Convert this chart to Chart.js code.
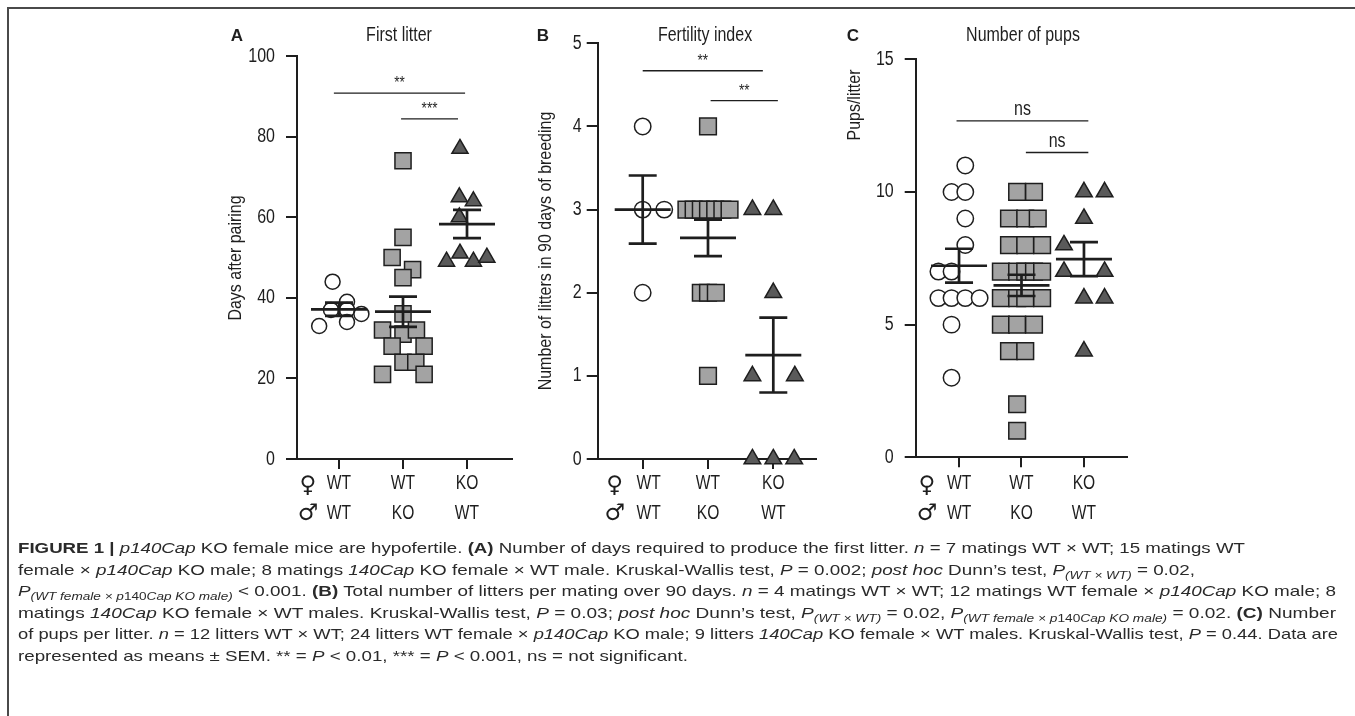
<!DOCTYPE html>
<html><head><meta charset="utf-8">
<script src="https://cdn.jsdelivr.net/npm/chart.js@4.4.1/dist/chart.umd.min.js"></script>
<style>
html,body{margin:0;padding:0;background:#fff;}
body{width:1355px;height:716px;overflow:hidden;position:relative;font-family:'Liberation Sans',Arial,sans-serif;}
.frame-top{position:absolute;left:7px;top:7px;width:1348px;height:2px;background:#4a4a4a;}
.frame-left{position:absolute;left:7px;top:7px;width:2px;height:709px;background:#4a4a4a;}
canvas{position:absolute;top:0;}
#cap{position:absolute;left:18px;top:537px;font-size:15px;line-height:21.5px;color:#2a2a2a;white-space:nowrap;}
#cap div{height:21.5px;}
#cap span{display:inline-block;transform-origin:0 50%;}
#cap sub{font-size:0.72em;vertical-align:-0.35em;line-height:0;}
</style></head>
<body>
<div class="frame-top"></div><div class="frame-left"></div>
<canvas id="cA" width="330" height="540" style="left:200px"></canvas>
<canvas id="cB" width="310" height="540" style="left:520px"></canvas>
<canvas id="cC" width="300" height="540" style="left:840px"></canvas>
<div id="cap"></div>
<script>
// ---------- shared labels ----------
const femaleGenotype = ['WT', 'WT', 'KO'];
const maleGenotype = ['WT', 'KO', 'WT'];
const panelLetters = ['A', 'B', 'C'];
const panelTitles = ['First litter', 'Fertility index', 'Number of pups'];
const yTitles = ['Days after pairing', 'Number of litters in 90 days of breeding', 'Pups/litter'];

// ---------- Panel A: days after pairing ----------
const daysWTxWT = [44, 39, 37, 37, 36, 34, 33];
const daysWTxWTjit = [-0.1, 0.125, -0.125, 0.125, 0.35, 0.125, -0.31];
const daysWTxKO = [74, 55, 50, 47, 45, 36, 32, 31, 32, 28, 28, 24, 24, 21, 21];
const daysWTxKOjit = [0, 0, -0.17, 0.15, 0, 0, -0.32, 0, 0.21, -0.17, 0.33, 0, 0.2, -0.32, 0.33];
const daysKOxWT = [77, 65, 64, 60, 49, 51, 49, 50];
const daysKOxWTjit = [-0.11, -0.12, 0.1, -0.12, -0.32, -0.11, 0.1, 0.31];
const daysMean = [37.15, 36.55, 58.3];
const daysSEM = [1.65, 3.75, 3.5];
const daysTicks = [0, 20, 40, 60, 80, 100];
const daysSig = [[0.92, 2.97, 90.8, '**'], [1.97, 2.86, 84.4, '***']];

// ---------- Panel B: litters in 90 days ----------
const littersWTxWT = [4, 3, 3, 2];
const littersWTxWTjit = [0, 0, 0.33, 0];
const littersWTxKO = [4, 3, 3, 3, 3, 3, 3, 3, 2, 2, 2, 1];
const littersWTxKOjit = [0, -0.33, -0.22, -0.11, 0, 0.11, 0.22, 0.33, -0.11, 0, 0.12, 0];
const littersKOxWT = [3, 3, 2, 1, 1, 0, 0, 0];
const littersKOxWTjit = [-0.32, 0, 0, -0.32, 0.33, -0.32, 0, 0.32];
const littersMean = [3.0, 2.66, 1.25];
const littersSEM = [0.41, 0.22, 0.45];
const littersTicks = [0, 1, 2, 3, 4, 5];
const littersSig = [[1.0, 2.84, 4.67, '**'], [2.04, 3.07, 4.31, '**']];

// ---------- Panel C: pups per litter ----------
const pupsWTxWT = [11, 10, 10, 9, 8, 7, 7, 6, 6, 6, 6, 5, 3];
const pupsWTxWTjit = [0.1, -0.12, 0.1, 0.1, 0.1, -0.33, -0.12, -0.33, -0.12, 0.1, 0.33, -0.12, -0.12];
const pupsWTxKO = [10, 10, 9, 9, 9, 8, 8, 8, 7, 7, 7, 7, 7, 6, 6, 6, 6, 5, 5, 5, 4, 4, 2, 1];
const pupsWTxKOjit = [-0.07, 0.2, -0.2, 0.06, 0.26, -0.2, 0.06, 0.33, -0.33, -0.07, 0.06, 0.2, 0.33, -0.33, -0.07, 0.06, 0.33, -0.33, -0.07, 0.2, -0.2, 0.06, -0.07, -0.07];
const pupsKOxWT = [10, 10, 9, 8, 7, 7, 6, 6, 4];
const pupsKOxWTjit = [0, 0.33, 0, -0.32, -0.32, 0.33, 0, 0.33, 0];
const pupsMean = [7.22, 6.48, 7.47];
const pupsSEM = [0.64, 0.40, 0.64];
const pupsTicks = [0, 5, 10, 15];
const pupsSig = [[0.96, 3.07, 12.68, 'ns'], [2.07, 3.07, 11.49, 'ns']];

// ---------- drawing ----------
const SANS = "'Liberation Sans',Arial,sans-serif";
const INK = '#1e1e1e';
const LIGHT = '#a3a3a3', DARK = '#5a5a5a';

function pts(vals, jit, cat) { return vals.map((v, i) => ({ x: cat + jit[i], y: v })); }

// condensed text (the figure uses a condensed sans face)
function ntext(ctx, text, x, y, size, align, sx, rot) {
  ctx.save();
  ctx.translate(x, y);
  if (rot) ctx.rotate(rot);
  ctx.scale(sx, 1);
  ctx.font = size + 'px ' + SANS;
  ctx.textAlign = align;
  ctx.textBaseline = 'middle';
  ctx.fillText(text, 0, 0);
  ctx.restore();
}

const decoPlugin = {
  id: 'deco',
  afterDatasetsDraw(chart, args, o) {
    const ctx = chart.ctx, xs = chart.scales.x, ys = chart.scales.y;
    ctx.save();
    ctx.strokeStyle = INK; ctx.lineWidth = 2.7; ctx.lineCap = 'butt';
    o.mean.forEach((m, i) => {
      const cx = xs.getPixelForValue(i + 1);
      const ym = ys.getPixelForValue(m), yh = ys.getPixelForValue(m + o.sem[i]), yl = ys.getPixelForValue(m - o.sem[i]);
      ctx.beginPath();
      ctx.moveTo(cx - 28, ym); ctx.lineTo(cx + 28, ym);
      ctx.moveTo(cx, yh); ctx.lineTo(cx, yl);
      ctx.moveTo(cx - 14, yh); ctx.lineTo(cx + 14, yh);
      ctx.moveTo(cx - 14, yl); ctx.lineTo(cx + 14, yl);
      ctx.stroke();
    });
    ctx.lineWidth = 1.4;
    ctx.fillStyle = INK;
    o.sig.forEach(s => {
      const x1 = xs.getPixelForValue(s[0]), x2 = xs.getPixelForValue(s[1]), y = ys.getPixelForValue(s[2]);
      ctx.beginPath(); ctx.moveTo(x1, y); ctx.lineTo(x2, y); ctx.stroke();
      if (s[3] === 'ns') ntext(ctx, s[3], (x1 + x2) / 2, y - 11, 20, 'center', 0.8);
      else ntext(ctx, s[3], (x1 + x2) / 2, y - 9, 16, 'center', 0.85);
    });
    ctx.restore();
  },
  afterDraw(chart, args, o) {
    const ctx = chart.ctx, xs = chart.scales.x, ys = chart.scales.y, ca = chart.chartArea;
    ctx.save();
    ctx.fillStyle = INK;
    // y tick labels from the scale's ticks
    ys.ticks.forEach(t => {
      ntext(ctx, String(t.value), ca.left - 11 - o.tickPad, ys.getPixelForValue(t.value), 20, 'right', 0.8);
    });
    // category labels
    femaleGenotype.forEach((t, i) => ntext(ctx, t, xs.getPixelForValue(i + 1) + (i === 0 ? o.firstShift : 0), o.row1, 20, 'center', 0.78));
    maleGenotype.forEach((t, i) => ntext(ctx, t, xs.getPixelForValue(i + 1) + (i === 0 ? o.firstShift : 0), o.row2, 20, 'center', 0.78));
    // sex symbols
    ctx.font = '23px "DejaVu Sans"';
    ctx.textAlign = 'center'; ctx.textBaseline = 'middle';
    const sx = xs.getPixelForValue(1) - o.symOff;
    ctx.fillText('\u2640', sx, o.row1 + 3);
    ctx.fillText('\u2642', sx, o.row2 + 1);
    // title
    ntext(ctx, o.title, o.titleX, 35, 20, 'center', 0.8);
    // letter
    ctx.font = 'bold 17px ' + SANS;
    ctx.fillText(o.letter, o.letterX, 36);
    // y title
    ntext(ctx, o.yTitle, o.yTitleX, o.yTitleY, 19, 'center', 0.84, -Math.PI / 2);
    ctx.restore();
  }
};

function makePanel(id, sets, yTicks, ySpec, xSpec, deco) {
  const [minV, maxV] = [yTicks[0], yTicks[yTicks.length - 1]];
  const datasets = sets.map(s => ({
    data: s.data,
    pointStyle: s.style,
    pointRadius: s.r,
    pointBackgroundColor: s.fill,
    pointBorderColor: INK,
    pointBorderWidth: 1.5,
    showLine: false,
    clip: false
  }));
  deco.tickPad = ySpec.pad;
  return new Chart(document.getElementById(id), {
    type: 'scatter',
    data: { datasets },
    options: {
      responsive: false, animation: false, events: [],
      layout: { padding: { top: ySpec.top, right: xSpec.right, left: 0, bottom: 0 } },
      plugins: { legend: { display: false }, tooltip: { enabled: false }, deco },
      scales: {
        x: {
          type: 'linear', min: xSpec.min, max: xSpec.max,
          afterBuildTicks: s => { s.ticks = femaleGenotype.map((_, i) => ({ value: i + 1 })); },
          afterFit: s => { s.height = xSpec.height; },
          ticks: { display: false },
          grid: { drawOnChartArea: false, drawTicks: true, tickLength: 10, color: INK, lineWidth: 2 },
          border: { display: true, color: INK, width: 2 }
        },
        y: {
          type: 'linear', min: minV, max: maxV,
          afterBuildTicks: s => { s.ticks = yTicks.map(v => ({ value: v })); },
          afterFit: s => { s.width = ySpec.width; },
          ticks: { display: false },
          grid: { drawOnChartArea: false, drawTicks: true, tickLength: 11, color: INK, lineWidth: 2 },
          border: { display: true, color: INK, width: 2 }
        }
      }
    },
    plugins: [decoPlugin]
  });
}

// Panel A
makePanel('cA', [
  { data: pts(daysWTxWT, daysWTxWTjit, 1), style: 'circle', r: 7.5, fill: '#ffffff' },
  { data: pts(daysWTxKO, daysWTxKOjit, 2), style: 'rect', r: 11.4, fill: LIGHT },
  { data: pts(daysKOxWT, daysKOxWTjit, 3), style: 'triangle', r: 9.3, fill: DARK }
], daysTicks, { top: 56, width: 97, pad: 11 },
   { min: 1 - 42 / 64, max: 1 + 173 / 64, height: 81, right: 18 },
   { mean: daysMean, sem: daysSEM, sig: daysSig, row1: 483, row2: 513, symOff: 31, firstShift: 0,
     title: panelTitles[0], titleX: 199, letter: panelLetters[0], letterX: 37,
     yTitle: yTitles[0], yTitleX: 36, yTitleY: 258 });

// Panel B
makePanel('cB', [
  { data: pts(littersWTxWT, littersWTxWTjit, 1), style: 'circle', r: 8.2, fill: '#ffffff' },
  { data: pts(littersWTxKO, littersWTxKOjit, 2), style: 'rect', r: 11.8, fill: LIGHT },
  { data: pts(littersKOxWT, littersKOxWTjit, 3), style: 'triangle', r: 9.6, fill: DARK }
], littersTicks, { top: 43.3, width: 77.7, pad: 5 },
   { min: 1 - 45 / 65.3, max: 1 + (816 - 642.7) / 65.3, height: 81, right: 14 },
   { mean: littersMean, sem: littersSEM, sig: littersSig, row1: 483, row2: 513, symOff: 28, firstShift: 6,
     title: panelTitles[1], titleX: 185, letter: panelLetters[1], letterX: 23,
     yTitle: yTitles[1], yTitleX: 26, yTitleY: 251 });

// Panel C
makePanel('cC', [
  { data: pts(pupsWTxWT, pupsWTxWTjit, 1), style: 'circle', r: 8.2, fill: '#ffffff' },
  { data: pts(pupsWTxKO, pupsWTxKOjit, 2), style: 'rect', r: 11.8, fill: LIGHT },
  { data: pts(pupsKOxWT, pupsKOxWTjit, 3), style: 'triangle', r: 9.6, fill: DARK }
], pupsTicks, { top: 59.3, width: 75.7, pad: 11 },
   { min: 1 - 43.6 / 62.85, max: 1 + 168.7 / 62.85, height: 82.7, right: 12 },
   { mean: pupsMean, sem: pupsSEM, sig: pupsSig, row1: 483, row2: 513, symOff: 32, firstShift: 0,
     title: panelTitles[2], titleX: 183, letter: panelLetters[2], letterX: 13,
     yTitle: yTitles[2], yTitleX: 15, yTitleY: 105 });

// ---------- caption ----------
const sub = s => '<sub><i>' + s + '</i></sub>';
const captionLines = [
  '<b>FIGURE 1 |</b> <i>p140Cap</i> KO female mice are hypofertile. <b>(A)</b> Number of days required to produce the first litter. <i>n</i> = 7 matings WT \u00d7 WT; 15 matings WT',
  'female \u00d7 <i>p140Cap</i> KO male; 8 matings <i>140Cap</i> KO female \u00d7 WT male. Kruskal-Wallis test, <i>P</i> = 0.002; <i>post hoc</i> Dunn\u2019s test, <i>P</i>' + sub('(WT \u00d7 WT)') + ' = 0.02,',
  '<i>P</i>' + sub('(WT female \u00d7 p</i>140<i>Cap KO male)') + ' &lt; 0.001. <b>(B)</b> Total number of litters per mating over 90 days. <i>n</i> = 4 matings WT \u00d7 WT; 12 matings WT female \u00d7 <i>p140Cap</i> KO male; 8',
  'matings <i>140Cap</i> KO female \u00d7 WT males. Kruskal-Wallis test, <i>P</i> = 0.03; <i>post hoc</i> Dunn\u2019s test, <i>P</i>' + sub('(WT \u00d7 WT)') + ' = 0.02, <i>P</i>' + sub('(WT female \u00d7 p</i>140<i>Cap KO male)') + ' = 0.02. <b>(C)</b> Number',
  'of pups per litter. <i>n</i> = 12 litters WT \u00d7 WT; 24 litters WT female \u00d7 <i>p140Cap</i> KO male; 9 litters <i>140Cap</i> KO female \u00d7 WT males. Kruskal-Wallis test, <i>P</i> = 0.44. Data are',
  'represented as means \u00b1 SEM. ** = <i>P</i> &lt; 0.01, *** = <i>P</i> &lt; 0.001, ns = not significant.'
];
// right end of each caption line in the figure (px), used to fit the condensed face
const captionLineEnds = [1245, 1195, 1336, 1336, 1338, 688];
const cap = document.getElementById('cap');
cap.innerHTML = captionLines.map(l => '<div><span>' + l + '</span></div>').join('');
Array.from(cap.children).forEach((d, i) => {
  const sp = d.firstChild;
  const w = sp.getBoundingClientRect().width;
  sp.style.transform = 'scaleX(' + ((captionLineEnds[i] - 18) / w).toFixed(4) + ')';
});
</script>
</body></html>
